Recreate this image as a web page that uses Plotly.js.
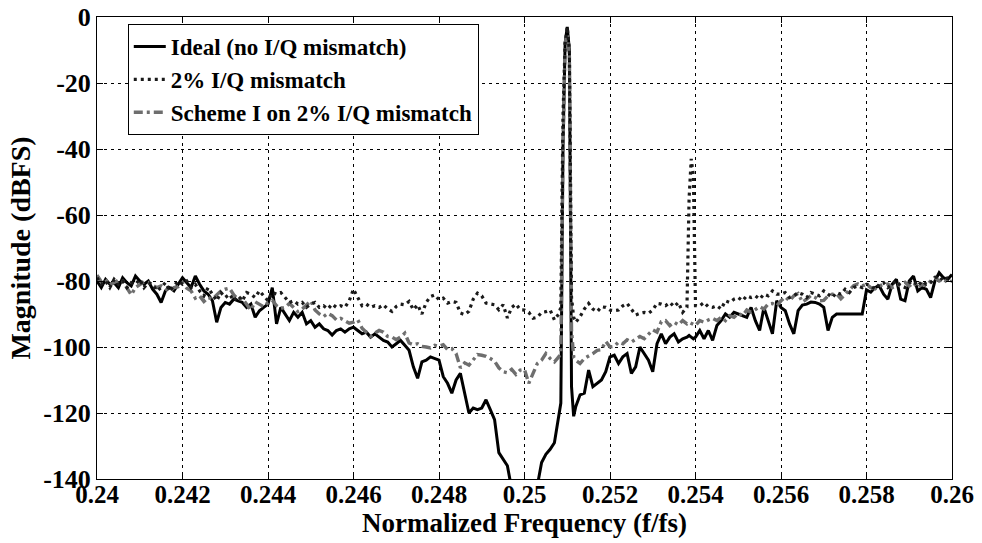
<!DOCTYPE html>
<html>
<head>
<meta charset="utf-8">
<script src="https://cdn.plot.ly/plotly-3.0.1.min.js"></script>
<style>
  html, body { margin: 0; padding: 0; background: #fff; }
  #chart { width: 982px; height: 543px; }
</style>
</head>
<body>
<div id="chart"></div>
<script>
// Normalized frequency grid (f/fs), refined around the carrier and the image tone
const freq = [
  0.2400, 0.2401, 0.2402, 0.2403, 0.2404, 0.2405, 0.2406, 0.2407, 0.2408, 0.2409,
  0.2410, 0.2411, 0.2412, 0.2413, 0.2414, 0.2415, 0.2416, 0.2417, 0.2418, 0.2419,
  0.2420, 0.2421, 0.2422, 0.2423, 0.2424, 0.2425, 0.2426, 0.2427, 0.2428, 0.2429,
  0.2430, 0.2431, 0.2432, 0.2433, 0.2434, 0.2435, 0.2436, 0.2437, 0.2438, 0.2439,
  0.2440, 0.2441, 0.2442, 0.2443, 0.2444, 0.2445, 0.2446, 0.2447, 0.2448, 0.2449,
  0.2450, 0.2451, 0.2452, 0.2453, 0.2454, 0.2455, 0.2456, 0.2457, 0.2458, 0.2459,
  0.2460, 0.2461, 0.2462, 0.2463, 0.2464, 0.2465, 0.2466, 0.2467, 0.2468, 0.2469,
  0.2470, 0.2471, 0.2472, 0.2473, 0.2474, 0.2475, 0.2476, 0.2477, 0.2478, 0.2479,
  0.2480, 0.2481, 0.2482, 0.2483, 0.2484, 0.2485, 0.2486, 0.2487, 0.2488, 0.2489,
  0.2490, 0.2491, 0.2492, 0.2493, 0.2494, 0.2495, 0.2496, 0.2497, 0.2498, 0.2499,
  0.2500, 0.2501, 0.2502, 0.2503, 0.2504, 0.2505, 0.2506, 0.2507, 0.2508,
  0.25085, 0.2509, 0.25095, 0.2510, 0.25105, 0.2511, 0.25115,
  0.2512, 0.2513, 0.2514, 0.2515, 0.2516, 0.2517, 0.2518, 0.2519,
  0.2520, 0.2521, 0.2522, 0.2523, 0.2524, 0.2525, 0.2526, 0.2527, 0.2528, 0.2529,
  0.2530, 0.2531, 0.2532, 0.2533, 0.2534, 0.2535, 0.2536, 0.2537, 0.2538,
  0.25385, 0.2539, 0.25395,
  0.2540, 0.2541, 0.2542, 0.2543, 0.2544, 0.2545, 0.2546, 0.2547, 0.2548, 0.2549,
  0.2550, 0.2551, 0.2552, 0.2553, 0.2554, 0.2555, 0.2556, 0.2557, 0.2558, 0.2559,
  0.2560, 0.2561, 0.2562, 0.2563, 0.2564, 0.2565, 0.2566, 0.2567, 0.2568, 0.2569,
  0.2570, 0.2571, 0.2572, 0.2573, 0.2574, 0.2575, 0.2576, 0.2577, 0.2578, 0.2579,
  0.2580, 0.2581, 0.2582, 0.2583, 0.2584, 0.2585, 0.2586, 0.2587, 0.2588, 0.2589,
  0.2590, 0.2591, 0.2592, 0.2593, 0.2594, 0.2595, 0.2596, 0.2597, 0.2598, 0.2599,
  0.2600
];

// Ideal receiver (no I/Q mismatch), dBFS
const idealDb = [
  -80, -82, -79.5, -81, -80.5, -82, -79, -80.5, -81.5, -78.5,
  -80, -81, -80, -82.5, -84, -86.5, -83, -82, -83, -81,
  -79, -80.5, -82, -78.5, -81, -83, -84, -86, -92.5, -88,
  -86.5, -87, -85.5, -86, -86.5, -88, -87, -91, -89, -88,
  -87, -82, -93, -88, -90, -92, -89.5, -91, -89.5, -93,
  -92, -94, -93, -94.5, -95, -96.4, -95, -94.5, -95.5, -94.5,
  -94, -95, -96, -95.5, -97, -96, -97, -98, -98.5, -100,
  -99, -98, -99.5, -101, -106, -109.5, -104.5, -104, -103, -103.5,
  -104, -109, -111, -114, -110, -108, -114, -120, -118.5, -119,
  -118.5, -116, -119, -122, -132, -134, -136, -143, -148, -148,
  -148, -148, -148, -142, -135, -132.5, -131, -129, -120,
  -117, -40, -8, -3, -10, -112, -121,
  -118, -114.5, -114, -107, -112, -111, -110, -107.5,
  -103, -102.5, -105, -103, -102, -108, -106, -100, -102, -104,
  -107.5, -99, -96, -99, -97, -96, -98.5, -97.5, -97,
  -96.5, -97, -97.5,
  -97, -95, -97.5, -95, -98, -93.5, -92, -90, -91, -89.5,
  -90, -90.5, -91, -88, -92, -95, -88, -92, -96, -86,
  -88, -89, -93, -96, -89, -87.3, -87, -86.4, -86.5, -87,
  -88, -95, -91, -90, -90, -90, -90, -90, -90, -90,
  -82.7, -83.4, -82, -81.5, -84, -85.5, -81, -79.5, -85.5, -86,
  -80, -78.5, -83, -82, -82.5, -85, -80, -77.5, -79, -79.5,
  -78
];

// 2% I/Q mismatch, dBFS (image tone near 0.2539)
const mismatchDb = [
  -79, -81, -80, -82, -79.5, -81, -80, -82, -80.5, -81,
  -79.5, -82, -80.5, -81, -83, -82, -80.5, -83, -81.5, -80,
  -81, -80, -82, -81, -83, -84.5, -82, -84, -86, -83.5,
  -85, -84, -86, -84.5, -86, -83.5, -84, -85, -83, -84.5,
  -86, -83.5, -84, -83.5, -85, -86.5, -86, -87, -86.5, -88,
  -87, -86.5, -88, -87.5, -88.5, -87, -88, -87.5, -88, -86,
  -82.5, -85, -87.5, -87, -88, -87.5, -88, -87.2, -88.5, -89.2,
  -87.7, -87, -87.2, -86.2, -88.7, -87.2, -90, -86.5, -84.7, -84.2,
  -85.7, -85.2, -86.7, -86.2, -86.5, -89.7, -90.2, -89.2, -85.5, -83.7,
  -84.5, -86.7, -87, -87.2, -88.7, -87.2, -91.2, -88, -87, -88.7,
  -88.8, -89.5, -91.3, -91, -89.5, -89.3, -88.8, -91.8, -90,
  -88, -30, -8, -3, -10, -85, -91,
  -92.5, -90.8, -88.5, -86.8, -88.5, -89.3, -87.8, -88,
  -88.8, -89, -88.8, -87.5, -86.8, -88.5, -90.3, -89.8, -89.5, -89.8,
  -88.8, -86.8, -87, -87.5, -86.5, -87.8, -86.5, -89.5, -88,
  -55, -43, -48,
  -87.5, -87.5, -86.5, -87.8, -88, -87.5, -88.5, -86, -86.5, -85.5,
  -85, -86, -84.5, -85, -84.5, -85.5, -84, -84.5, -83, -84,
  -84, -83.5, -85, -84.5, -83.5, -84, -85, -83.5, -84, -84.5,
  -83, -84, -85, -83.5, -84, -82.5, -83.5, -82, -81.5, -82,
  -81, -81.5, -82.5, -81, -80.5, -82, -81, -80, -81.5, -82,
  -80.5, -80, -81.5, -80, -81, -80.5, -79, -78.5, -80, -79,
  -78.5
];

// Scheme I applied on 2% I/Q mismatch, dBFS
const schemeDb = [
  -78.2, -80.2, -79.5, -81.2, -80.5, -79.7, -80, -82, -84.2, -82,
  -81, -80.2, -80.5, -81.2, -82, -81.5, -82.5, -83.2, -82, -81.7,
  -80.5, -82.2, -83, -85.2, -84.5, -86.2, -85, -85.5, -84.2, -83,
  -82.5, -82.2, -84.2, -85.5, -85.3, -87, -88.8, -86.3, -87, -87.8,
  -86.5, -85.8, -87.5, -88.3, -88, -86.8, -88, -89.3, -88.5, -87.3,
  -86, -88.8, -90, -90.8, -89.8, -90.5, -91.8, -91.3, -92, -92.8,
  -92.5, -91.8, -94.3, -95.5, -96.8, -95.8, -95, -95.5, -96.8, -97,
  -97.8, -97, -95.8, -98.8, -99.3, -99, -99.8, -100, -100.3, -99.5,
  -99.8, -99.3, -100.8, -100.5, -102, -106.3, -104.8, -105.5, -103.8, -102.3,
  -102.5, -102.8, -103.5, -104.3, -106.3, -107.5, -107.8, -106.8, -108.3, -107,
  -106.8, -111, -108, -105, -104, -102, -103.5, -104.5, -103,
  -102, -40, -8, -5, -12, -95, -103,
  -104, -105, -103.5, -102.8, -102, -101, -100.8, -98.3,
  -100, -99.8, -98.5, -99, -97.8, -98.5, -97.5, -96.8, -97.5, -96,
  -94.8, -95.5, -92.3, -92, -93.5, -92.5, -93.3, -92, -93,
  -92.5, -92.8, -93,
  -93.5, -92, -92.5, -91.8, -91.3, -92, -91, -92, -90.5, -91,
  -89.8, -90.5, -88.8, -89.5, -88.5, -87.8, -88.5, -87, -86.8, -87.5,
  -86, -84.8, -86, -84.5, -83.8, -86.4, -85.5, -84.4, -85, -86,
  -85.9, -84.5, -84, -83.9, -85.4, -84, -82.5, -81.4, -80.9, -81.5,
  -81, -82, -82.4, -81.5, -81, -80.9, -82, -81.4, -81, -80.4,
  -81.5, -80.5, -82, -80.9, -81.5, -80, -78.9, -80, -79.4, -80.5,
  -79.9
];

const seriesNames = ['Ideal (no I/Q mismatch)', '2% I/Q mismatch', 'Scheme I on 2% I/Q mismatch'];

const xTickVals = [0.24, 0.242, 0.244, 0.246, 0.248, 0.25, 0.252, 0.254, 0.256, 0.258, 0.26];
const xTickText = ['0.24', '0.242', '0.244', '0.246', '0.248', '0.25', '0.252', '0.254', '0.256', '0.258', '0.26'];
const yTickVals = [-140, -120, -100, -80, -60, -40, -20, 0];
const yTickText = ['-140', '-120', '-100', '-80', '-60', '-40', '-20', '0'];

const serif = '"Liberation Serif", "Times New Roman", serif';

const traces = [
  {
    x: freq, y: idealDb, name: seriesNames[0], type: 'scatter', mode: 'lines',
    line: { color: '#000000', width: 3 }, legendrank: 1
  },
  {
    x: freq, y: schemeDb, name: seriesNames[2], type: 'scatter', mode: 'lines',
    line: { color: '#6e6e6e', width: 3.4, dash: '9px,4px,3px,4px' }, legendrank: 3
  },
  {
    x: freq, y: mismatchDb, name: seriesNames[1], type: 'scatter', mode: 'lines',
    line: { color: '#1a1a1a', width: 3.2, dash: '3px,4px' }, legendrank: 2
  }
];

const axisCommon = {
  ticks: 'inside', ticklen: 6, tickwidth: 1, tickcolor: '#000',
  showline: true, mirror: 'ticks', linecolor: '#000', linewidth: 1,
  showgrid: true, gridcolor: '#000', gridwidth: 1, griddash: '3px,4px',
  zeroline: false, fixedrange: true,
  tickfont: { family: serif, size: 25, color: '#000', weight: 'bold' }
};

const layout = {
  width: 982, height: 543,
  margin: { l: 97, r: 30, t: 17, b: 64 },
  paper_bgcolor: '#ffffff', plot_bgcolor: '#ffffff',
  font: { family: serif, color: '#000' },
  showlegend: true,
  legend: {
    x: 0.036, y: 0.985, xanchor: 'left', yanchor: 'top',
    bgcolor: '#ffffff', bordercolor: '#000', borderwidth: 1,
    font: { family: serif, size: 23, color: '#000', weight: 'bold' },
    itemwidth: 32
  },
  xaxis: Object.assign({}, axisCommon, {
    range: [0.24, 0.26], tickmode: 'array', tickvals: xTickVals, ticktext: xTickText,
    ticklabelstandoff: -7,
    title: { text: 'Normalized Frequency (f/fs)', standoff: 0,
             font: { family: serif, size: 27, color: '#000', weight: 'bold' } }
  }),
  yaxis: Object.assign({}, axisCommon, {
    range: [-140, 0], tickmode: 'array', tickvals: yTickVals, ticktext: yTickText,
    tickfont: { family: serif, size: 26, color: '#000', weight: 'bold' },
    title: { text: 'Magnitude (dBFS)', standoff: 4,
             font: { family: serif, size: 28, color: '#000', weight: 'bold' } }
  })
};

Plotly.newPlot('chart', traces, layout, { displayModeBar: false, staticPlot: true });
</script>
</body>
</html>
